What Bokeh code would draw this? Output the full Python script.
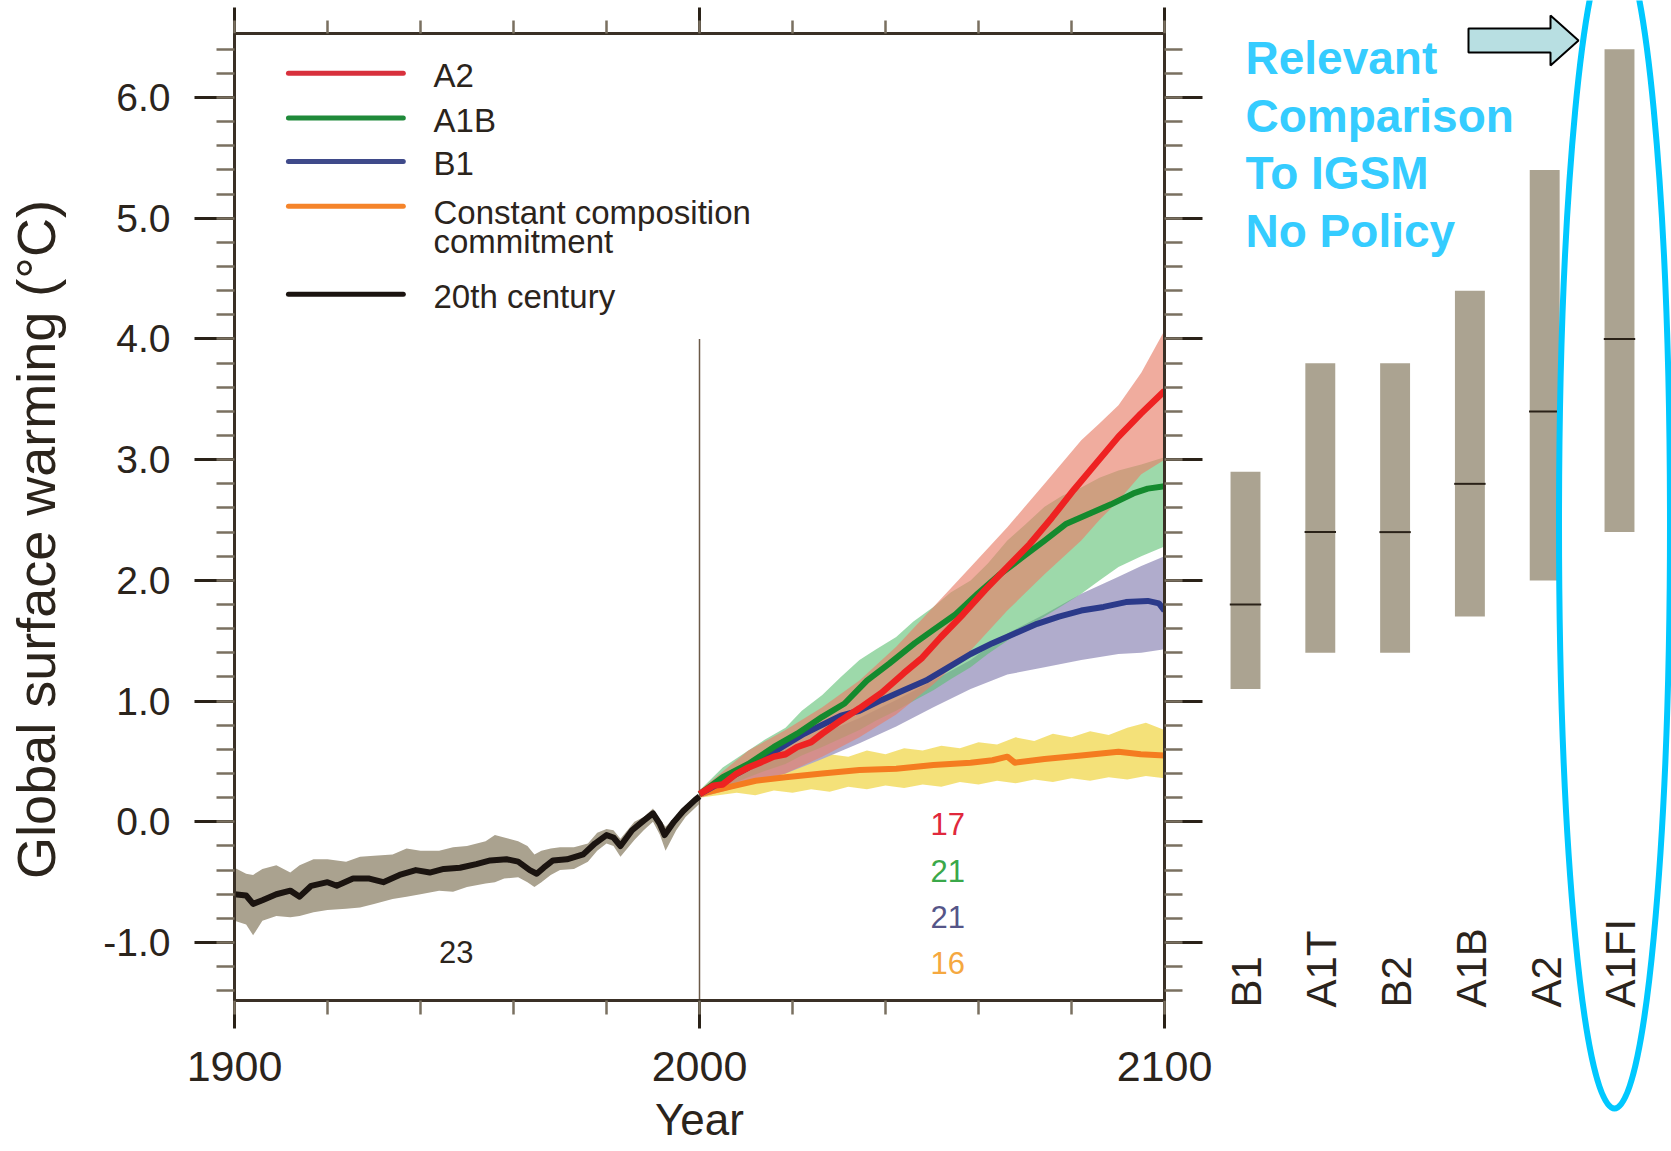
import math
from bokeh.plotting import figure
from bokeh.models import Range1d, LinearAxis, SingleIntervalTicker, NumeralTickFormatter
from bokeh.layouts import row
from bokeh.core.properties import value
from bokeh.embed import file_html
from bokeh.resources import INLINE

FONT = "Liberation Sans"
INK = "#2b241c"

# ---- 20th century: ensemble mean and spread (deg C) ----
hist_years = [1900, 1902.5, 1904, 1906, 1909, 1912, 1914, 1916.5, 1920, 1922, 1925.5, 1929, 1932,
              1935.5, 1939, 1942, 1945, 1948.5, 1952, 1955, 1958.5, 1961, 1963.5, 1965, 1966.5,
              1968.5, 1971.5, 1975, 1977.5, 1980, 1981.5, 1983, 1985.5, 1988, 1990, 1991.5, 1992.5,
              1994.5, 1996.5, 1999, 2000]
hist_mean = [-0.60, -0.61, -0.68, -0.65, -0.60, -0.57, -0.62, -0.53, -0.50, -0.53, -0.47, -0.47, -0.50,
             -0.44, -0.40, -0.42, -0.39, -0.38, -0.35, -0.32, -0.31, -0.33, -0.40, -0.43, -0.38,
             -0.32, -0.31, -0.27, -0.18, -0.11, -0.13, -0.20, -0.07, 0.01, 0.07, -0.02, -0.11,
             0.00, 0.09, 0.18, 0.21]
hist_band_years = [1900, 1902.5, 1904, 1906, 1909, 1912, 1914, 1917, 1920, 1924, 1927, 1930, 1934, 1937,
                   1940, 1944, 1947, 1950, 1954, 1956, 1958, 1961, 1963, 1964.5, 1966, 1968, 1970, 1973,
                   1976, 1978, 1980, 1981.5, 1983, 1986, 1988, 1990, 1991.5, 1992.7, 1995, 1997, 2000]
hist_hi = [-0.38, -0.43, -0.44, -0.39, -0.36, -0.42, -0.36, -0.31, -0.31, -0.33, -0.29, -0.28, -0.27, -0.22,
           -0.24, -0.24, -0.21, -0.20, -0.16, -0.11, -0.13, -0.16, -0.20, -0.27, -0.24, -0.22, -0.21, -0.21,
           -0.18, -0.09, -0.06, -0.07, -0.14, 0.00, 0.04, 0.11, 0.02, -0.04, 0.05, 0.12, 0.22]
hist_lo = [-0.82, -0.85, -0.94, -0.82, -0.78, -0.79, -0.78, -0.75, -0.73, -0.72, -0.71, -0.68, -0.64, -0.62,
           -0.60, -0.57, -0.58, -0.54, -0.51, -0.50, -0.47, -0.46, -0.50, -0.54, -0.50, -0.44, -0.40, -0.39,
           -0.33, -0.24, -0.18, -0.20, -0.29, -0.15, -0.07, 0.00, -0.11, -0.24, -0.07, 0.04, 0.15]

# ---- scenario means ----
a2_years = [2000, 2003, 2005, 2008, 2010.5, 2013, 2016, 2018.5, 2021, 2024, 2026.4, 2030.4, 2034.4,
            2039.2, 2043.9, 2047.9, 2051.9, 2056.7, 2061.4, 2066.2, 2071, 2075.8, 2080.5, 2085.3,
            2090.1, 2094.9, 2100]
a2_mean = [0.23, 0.30, 0.31, 0.40, 0.45, 0.49, 0.54, 0.56, 0.62, 0.66, 0.73, 0.84, 0.94,
           1.07, 1.23, 1.36, 1.53, 1.72, 1.92, 2.11, 2.30, 2.52, 2.75, 2.97, 3.19, 3.38, 3.57]
a1b_years = [2000, 2005, 2010.5, 2016, 2021, 2026.4, 2031.2, 2036, 2040.8, 2046.3, 2050.3, 2055.1,
             2059.8, 2064.6, 2069.4, 2074.2, 2078.9, 2083.7, 2088.5, 2093.3, 2096.4, 2100]
a1b_mean = [0.23, 0.37, 0.48, 0.62, 0.73, 0.87, 0.98, 1.17, 1.31, 1.48, 1.59, 1.72,
            1.89, 2.05, 2.19, 2.33, 2.47, 2.55, 2.63, 2.72, 2.76, 2.78]
b1_years = [2000, 2010.5, 2022.5, 2030.4, 2034.4, 2039.2, 2043.9, 2048.7, 2053.5, 2058.3, 2063,
            2067.8, 2072.6, 2077.3, 2082.1, 2086.9, 2091.7, 2096.4, 2098.8, 2100]
b1_mean = [0.23, 0.45, 0.73, 0.88, 0.92, 1.01, 1.09, 1.17, 1.28, 1.39, 1.48,
           1.56, 1.64, 1.70, 1.75, 1.78, 1.82, 1.83, 1.81, 1.75]
cc_years = [2000, 2006.5, 2012.1, 2018.5, 2026.4, 2034.4, 2042.3, 2050.3, 2058.3, 2063, 2066.2,
            2067.8, 2074.2, 2082.1, 2090.1, 2094.9, 2100]
cc_mean = [0.23, 0.29, 0.34, 0.37, 0.40, 0.43, 0.44, 0.47, 0.49, 0.51, 0.54,
           0.49, 0.52, 0.55, 0.58, 0.56, 0.55]

# ---- scenario spreads ----
a2_band_years = [2000, 2010.5, 2018.5, 2026.4, 2034.4, 2042.3, 2050.3, 2058.3, 2066.2, 2074.2,
                 2082.1, 2086, 2090.1, 2095, 2100]
a2_hi = [0.26, 0.59, 0.76, 0.95, 1.17, 1.45, 1.78, 2.11, 2.44, 2.80, 3.16, 3.30, 3.45, 3.72, 4.07]
a2_lo = [0.20, 0.31, 0.40, 0.54, 0.70, 0.89, 1.14, 1.42, 1.75, 2.05, 2.33, 2.50, 2.66, 2.88, 3.00]

a1b_band_years = [2000, 2005, 2010.5, 2014, 2018.5, 2022, 2026.4, 2030.4, 2034.4, 2038, 2042.3, 2046,
                  2050.3, 2054, 2058.3, 2062, 2066.2, 2070, 2074.2, 2078, 2082.1, 2086, 2090.1, 2095, 2100]
a1b_hi = [0.26, 0.45, 0.59, 0.68, 0.78, 0.92, 1.05, 1.20, 1.34, 1.43, 1.53, 1.66,
          1.78, 1.90, 2.00, 2.14, 2.33, 2.46, 2.61, 2.70, 2.77, 2.85, 2.91, 2.96, 3.02]
a1b_lo = [0.20, 0.28, 0.37, 0.42, 0.48, 0.55, 0.62, 0.69, 0.76, 0.84, 0.92, 1.00,
          1.09, 1.18, 1.28, 1.39, 1.50, 1.60, 1.70, 1.79, 1.89, 2.00, 2.11, 2.20, 2.28]

b1_band_years = [2000, 2010.5, 2018.5, 2026.4, 2034.4, 2042.3, 2050.3, 2058.3, 2066.2, 2074.2,
                 2082.1, 2090.1, 2095, 2100]
b1_hi = [0.23, 0.47, 0.60, 0.73, 0.86, 1.01, 1.17, 1.34, 1.56, 1.72, 1.89, 2.03, 2.12, 2.20]
b1_lo = [0.20, 0.33, 0.40, 0.52, 0.65, 0.79, 0.95, 1.10, 1.22, 1.28, 1.34, 1.39, 1.40, 1.43]

cc_band_years = [2000, 2004, 2008, 2012, 2016, 2020, 2024, 2028, 2032, 2036, 2040, 2044, 2048,
                 2052, 2056, 2060, 2064, 2068, 2072, 2076, 2080, 2084, 2088, 2092, 2096, 2100]
cc_hi = [0.26, 0.33, 0.40, 0.46, 0.50, 0.52, 0.50, 0.56, 0.54, 0.59, 0.56, 0.61, 0.59,
         0.63, 0.61, 0.66, 0.64, 0.70, 0.67, 0.73, 0.70, 0.75, 0.72, 0.78, 0.82, 0.76]
cc_lo = [0.20, 0.22, 0.24, 0.22, 0.26, 0.24, 0.27, 0.25, 0.29, 0.27, 0.30, 0.28, 0.31,
         0.29, 0.33, 0.31, 0.34, 0.32, 0.35, 0.33, 0.36, 0.34, 0.37, 0.35, 0.38, 0.36]

# ---- model counts ----
count_labels = ["17", "21", "21", "16"]
hist_count = "23"

# ---- likely ranges at 2090-2099 per SRES scenario ----
sres_names = ["B1", "A1T", "B2", "A1B", "A2", "A1FI"]
sres_low = [1.1, 1.4, 1.4, 1.7, 2.0, 2.4]
sres_best = [1.8, 2.4, 2.4, 2.8, 3.4, 4.0]
sres_high = [2.9, 3.8, 3.8, 4.4, 5.4, 6.4]

legend_names = ["A2", "A1B", "B1", "Constant composition", "20th century"]

C_A2, C_A1B, C_B1, C_CC, C_HIST = "#ee2222", "#148a2e", "#2b3a8a", "#f47c20", "#1b1410"

# ================= main panel =================
Y0, Y1 = -1.48, 6.53
p = figure(width=1222, height=1151, x_range=Range1d(1900, 2100), y_range=Range1d(Y0, Y1),
           output_backend="svg", toolbar_location=None,
           x_axis_location=None, y_axis_location=None,
           min_border_left=234, min_border_right=58, min_border_top=33, min_border_bottom=151)
p.grid.visible = False
p.background_fill_color = "white"
p.border_fill_color = "white"
p.outline_line_color = "#3a3026"
p.outline_line_width = 3


def make_axis(ticker, major_out, minor_out, show_labels, size="40px", standoff=20):
    ax = LinearAxis(ticker=ticker)
    ax.axis_line_color = "#3a3026"
    ax.axis_line_width = 3
    ax.major_tick_line_color = "#2a2218"
    ax.major_tick_line_width = 3
    ax.minor_tick_line_color = "#7a7060"
    ax.minor_tick_line_width = 2.5
    ax.major_tick_in = 0
    ax.minor_tick_in = 0
    ax.major_tick_out = major_out
    ax.minor_tick_out = minor_out
    ax.axis_label_text_font = FONT
    ax.axis_label_text_font_style = "normal"
    ax.axis_label_text_color = INK
    if show_labels:
        ax.major_label_text_font = FONT
        ax.major_label_text_font_size = size
        ax.major_label_text_color = INK
        ax.major_label_standoff = standoff
    else:
        ax.major_label_text_font_size = "1px"
        ax.major_label_text_color = None
        ax.major_label_standoff = 0
    return ax


left = make_axis(SingleIntervalTicker(interval=1, num_minor_ticks=5), 40, 18, True, "39px", 24)
left.formatter = NumeralTickFormatter(format="0.0")
# trailing no-break spaces nudge the centred title a little towards the bottom
left.axis_label = "Global surface warming (°C)" + "\u00a0" * 3
left.axis_label_text_font_size = "54px"
left.axis_label_standoff = 34
right = make_axis(SingleIntervalTicker(interval=1, num_minor_ticks=5), 38, 18, False)
bottom = make_axis(SingleIntervalTicker(interval=100, num_minor_ticks=5), 28, 14, True, "43px", 23)
bottom.axis_label = "Year"
bottom.axis_label_text_font_size = "44px"
bottom.axis_label_standoff = 11
top = make_axis(SingleIntervalTicker(interval=100, num_minor_ticks=5), 26, 13, False)
p.add_layout(left, "left")
p.add_layout(right, "right")
p.add_layout(bottom, "below")
p.add_layout(top, "above")

# spreads
p.varea(x=hist_band_years, y1=hist_lo, y2=hist_hi, fill_color="#aaa28f", fill_alpha=1.0)
p.varea(x=cc_band_years, y1=cc_lo, y2=cc_hi, fill_color="#f2dc62", fill_alpha=0.85)
p.varea(x=b1_band_years, y1=b1_lo, y2=b1_hi, fill_color="#aca8c9", fill_alpha=0.95)
p.varea(x=a1b_band_years, y1=a1b_lo, y2=a1b_hi, fill_color="#5cc072", fill_alpha=0.6)
p.varea(x=a2_band_years, y1=a2_lo, y2=a2_hi, fill_color="#e8806a", fill_alpha=0.65)

# reference line at the start of the projections
split_year, split_top = 2000, 4.0
p.segment(x0=[split_year], y0=[Y0], x1=[split_year], y1=[split_top], line_color="#6b5a48", line_width=1.5)

# means
p.line(hist_years, hist_mean, line_color=C_HIST, line_width=6, line_join="round")
p.line(cc_years, cc_mean, line_color=C_CC, line_width=6, line_join="round")
p.line(b1_years, b1_mean, line_color=C_B1, line_width=6, line_join="round")
p.line(a1b_years, a1b_mean, line_color=C_A1B, line_width=6, line_join="round")
p.line(a2_years, a2_mean, line_color=C_A2, line_width=6.5, line_join="round")

# legend drawn inside the frame
leg_colors = ["#d8303c", "#1f8a3a", "#3f4a8a", "#f5842a", "#1b1410"]
leg_y = [6.20, 5.83, 5.47, 5.10, 4.37]
leg_x0, leg_x1, leg_tx = 1911.6, 1936.3, 1942.8
p.segment(x0=[leg_x0] * 5, x1=[leg_x1] * 5, y0=leg_y, y1=leg_y, line_color=leg_colors,
          line_width=5, line_cap="round")
p.text(x=[leg_tx] * 4, y=[6.18, 5.81, 5.45, 4.35],
       text=[legend_names[0], legend_names[1], legend_names[2], legend_names[4]],
       text_font=value(FONT), text_font_size="33px", text_color=INK,
       text_baseline="middle", text_align="left")
p.text(x=[leg_tx, leg_tx], y=[5.05, 4.81], text=[legend_names[3], "commitment"],
       text_font=value(FONT), text_font_size="33px", text_color=INK,
       text_baseline="middle", text_align="left")

# model counts
p.text(x=[1947.7], y=[-1.08], text=[hist_count], text_font=value(FONT), text_font_size="31px",
       text_color=INK, text_align="center", text_baseline="middle")
p.text(x=[2053.4] * 4, y=[-0.02, -0.41, -0.79, -1.17], text=count_labels,
       text_color=["#e0283c", "#3aa84a", "#555588", "#f5a840"],
       text_font=value(FONT), text_font_size="31px", text_align="center", text_baseline="middle")

# ================= SRES range panel =================
PX_PER_X = 74.8
PX_PER_Y = 120.7
X_ORIGIN_PX = 1245 - 1222     # first bar centre, in panel pixels
Y_ZERO_PX = 821.3

q = figure(width=449, height=1151,
           x_range=Range1d(-X_ORIGIN_PX / PX_PER_X, (449 - X_ORIGIN_PX) / PX_PER_X),
           y_range=Range1d(-(1151 - Y_ZERO_PX) / PX_PER_Y, Y_ZERO_PX / PX_PER_Y),
           output_backend="svg", toolbar_location=None,
           x_axis_location=None, y_axis_location=None,
           min_border_left=0, min_border_right=0, min_border_top=0, min_border_bottom=0)
q.grid.visible = False
q.outline_line_color = None
q.background_fill_color = "white"
q.border_fill_color = "white"
# keep this panel's frame independent of the neighbouring plot
for fig in (p, q):
    if "frame_align" in fig.properties():
        fig.frame_align = False


def qx(px):
    return (px - 1222 - X_ORIGIN_PX) / PX_PER_X


def qy(py):
    return (Y_ZERO_PX - py) / PX_PER_Y


idx = list(range(len(sres_names)))
q.vbar(x=idx, bottom=sres_low, top=sres_high, width=0.4, fill_color="#aba391", line_color=None)
q.segment(x0=[i - 0.21 for i in idx], x1=[i + 0.21 for i in idx], y0=sres_best, y1=sres_best,
          line_color="#2a2218", line_width=2)
q.text(x=[i + 0.02 for i in idx], y=[qy(1007)] * len(idx), text=sres_names, angle=math.pi / 2,
       text_font=value(FONT), text_font_size="42px", text_color=INK,
       text_align="left", text_baseline="middle")

# annotation
note = ["Relevant", "Comparison", "To IGSM", "No Policy"]
q.text(x=[qx(1245)] * 4, y=[qy(57), qy(115), qy(172), qy(230)], text=note,
       text_font=value(FONT), text_font_style="bold", text_font_size="46px",
       text_color="#35ccff", text_align="left", text_baseline="alphabetic")
arrow_px = [(1468, 28), (1550, 28), (1550, 15), (1578, 40), (1550, 65), (1550, 52), (1468, 52)]
q.patch(x=[qx(a) for a, b in arrow_px], y=[qy(b) for a, b in arrow_px],
        fill_color="#b8dfe2", line_color="black", line_width=2)
q.ellipse(x=[qx(1614)], y=[qy(523)], width=[111 / PX_PER_X], height=[1170 / PX_PER_Y],
          fill_color=None, line_color="#00c8ff", line_width=6)

layout = row(p, q, spacing=0)
open("out.html", "w").write(file_html(layout, INLINE))
